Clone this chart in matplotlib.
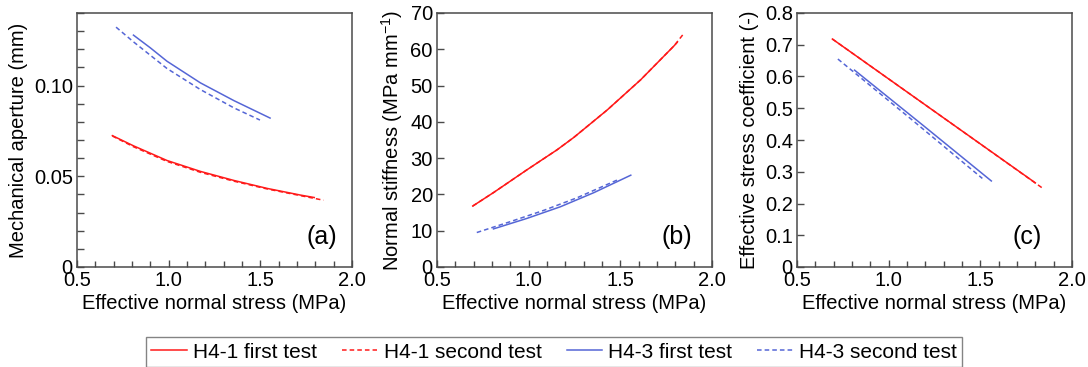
import numpy as np
import matplotlib
matplotlib.use("Agg")
from matplotlib import pyplot as plt
from matplotlib.ticker import MultipleLocator, FixedLocator, FuncFormatter

plt.rcParams['font.family'] = ['Liberation Sans', 'DejaVu Sans']
plt.rcParams['mathtext.default'] = 'regular'

RED = '#ff1a1a'
BLUE = '#5566d6'
AXC = '#4a4a4a'

labels = ["H4-1 first test", "H4-1 second test", "H4-3 first test", "H4-3 second test"]

# (a) mechanical aperture (mm)
a_h41_1_x = [0.693, 0.808, 0.991, 1.173, 1.356, 1.538, 1.721, 1.794]
a_h41_1_y = [0.0724, 0.0668, 0.0587, 0.0527, 0.0477, 0.0433, 0.0396, 0.0383]
a_h41_2_x = [0.693, 0.808, 0.991, 1.173, 1.356, 1.538, 1.721, 1.845]
a_h41_2_y = [0.0722, 0.0663, 0.0582, 0.0522, 0.0473, 0.0430, 0.0393, 0.0368]
a_h43_1_x = [0.808, 0.900, 0.991, 1.173, 1.356, 1.553]
a_h43_1_y = [0.1278, 0.1208, 0.1134, 0.1015, 0.0917, 0.0821]
a_h43_2_x = [0.713, 0.808, 0.991, 1.173, 1.356, 1.498]
a_h43_2_y = [0.1322, 0.1241, 0.1094, 0.0978, 0.0877, 0.0810]

# (b) normal stiffness (MPa/mm)
b_h41_1_x = [0.695, 0.808, 0.991, 1.155, 1.246, 1.429, 1.611, 1.794, 1.810]
b_h41_1_y = [16.8, 20.5, 26.8, 32.3, 35.7, 43.3, 51.6, 61.0, 61.9]
b_h41_2_x = [0.695, 0.808, 0.991, 1.155, 1.246, 1.429, 1.611, 1.794, 1.847]
b_h41_2_y = [16.8, 20.5, 26.8, 32.3, 35.7, 43.3, 51.6, 61.0, 64.4]
b_h43_1_x = [0.808, 0.991, 1.173, 1.356, 1.557]
b_h43_1_y = [10.5, 13.4, 16.6, 20.5, 25.3]
b_h43_2_x = [0.717, 0.900, 1.082, 1.265, 1.484]
b_h43_2_y = [9.5, 12.5, 15.6, 19.1, 24.0]

# (c) effective stress coefficient (-)
c_h41_1_x = [0.693, 1.250, 1.800]
c_h41_1_y = [0.718, 0.490, 0.265]
c_h41_2_x = [0.693, 1.250, 1.845]
c_h41_2_y = [0.718, 0.490, 0.246]
c_h43_1_x = [0.814, 1.190, 1.560]
c_h43_1_y = [0.620, 0.445, 0.271]
c_h43_2_x = [0.723, 1.120, 1.511]
c_h43_2_y = [0.655, 0.467, 0.279]

xticks = [0.5, 1.0, 1.5, 2.0]

fig = plt.figure(figsize=(10.88, 3.67), dpi=100)
W, H = 1088.0, 367.0
lefts = [77, 437, 797]
ax_w = 275
ax_top, ax_bot = 13, 267
axes = [fig.add_axes([l / W, (H - ax_bot) / H, ax_w / W, (ax_bot - ax_top) / H]) for l in lefts]

data = [
    [(a_h41_1_x, a_h41_1_y), (a_h41_2_x, a_h41_2_y), (a_h43_1_x, a_h43_1_y), (a_h43_2_x, a_h43_2_y)],
    [(b_h41_1_x, b_h41_1_y), (b_h41_2_x, b_h41_2_y), (b_h43_1_x, b_h43_1_y), (b_h43_2_x, b_h43_2_y)],
    [(c_h41_1_x, c_h41_1_y), (c_h41_2_x, c_h41_2_y), (c_h43_1_x, c_h43_1_y), (c_h43_2_x, c_h43_2_y)],
]
styles = [(RED, '-'), (RED, '--'), (BLUE, '-'), (BLUE, '--')]

ylabels = ["Mechanical aperture (mm)",
           "Normal stiffness (MPa mm$^{-1}$)",
           "Effective stress coefficient (-)"]
ylims = [(0, 0.14), (0, 70), (0, 0.8)]
tags = ["(a)", "(b)", "(c)"]
tag_x = [0.889, 0.873, 0.835]

def fmt_a(v, pos):
    return "0" if abs(v) < 1e-9 else "%.2f" % v

def fmt_b(v, pos):
    return "%d" % round(v)

def fmt_c(v, pos):
    return "0" if abs(v) < 1e-9 else "%.1f" % v

fmts = [fmt_a, fmt_b, fmt_c]

handles = []
for i, ax in enumerate(axes):
    for j, (xs, ys) in enumerate(data[i]):
        col, ls = styles[j]
        ln, = ax.plot(xs, ys, color=col, linestyle=ls, lw=1.1,
                      dashes=(3, 2) if ls == '--' else (None, None))
        if i == 0:
            handles.append(ln)
    ax.set_xlim(0.5, 2.0)
    ax.set_ylim(*ylims[i])
    ax.xaxis.set_major_locator(FixedLocator(xticks))
    ax.xaxis.set_major_formatter(FuncFormatter(lambda v, p: "%.1f" % v))
    ax.xaxis.set_minor_locator(MultipleLocator(0.1))
    if i == 0:
        ax.yaxis.set_major_locator(MultipleLocator(0.05))
        ax.yaxis.set_minor_locator(MultipleLocator(0.01))
    elif i == 1:
        ax.yaxis.set_major_locator(MultipleLocator(10))
    else:
        ax.yaxis.set_major_locator(MultipleLocator(0.1))
    ax.yaxis.set_major_formatter(FuncFormatter(fmts[i]))
    ax.tick_params(which='both', direction='in', colors=AXC, labelcolor='black',
                   labelsize=14.5, pad=3, width=1.0)
    ax.tick_params(which='major', length=5)
    ax.tick_params(which='minor', length=4)
    ax.tick_params(axis='y', which='minor', length=5)
    for s in ax.spines.values():
        s.set_color(AXC)
        s.set_linewidth(1.1)
    ax.set_xlabel("Effective normal stress (MPa)", fontsize=14.5, labelpad=3)
    ax.set_ylabel(ylabels[i], fontsize=14.5, labelpad=4)
    ax.text(tag_x[i], 0.118, tags[i], transform=ax.transAxes, fontsize=18,
            ha='center', va='center')

leg = fig.legend(handles, labels, loc='center', bbox_to_anchor=(554 / W, (H - 352) / H),
                 ncol=4, fontsize=15, frameon=True, fancybox=False,
                 handlelength=1.7, handletextpad=0.3, columnspacing=1.2,
                 borderpad=0.25, borderaxespad=0)
leg.get_frame().set_edgecolor('#666666')
leg.get_frame().set_linewidth(1.0)

fig.savefig("out.png", dpi=100)
